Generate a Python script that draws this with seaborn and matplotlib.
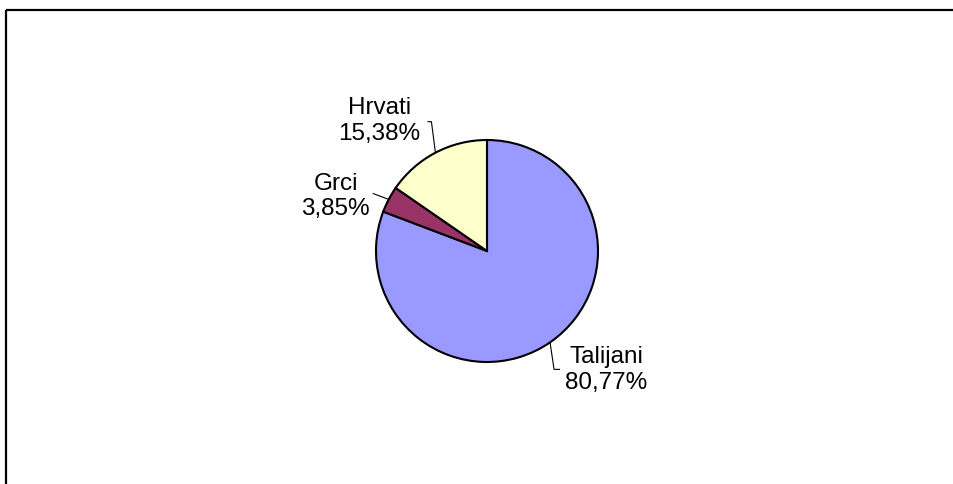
import numpy as np
import matplotlib
matplotlib.use("Agg")
import matplotlib.pyplot as plt
import seaborn as sns

categories = ["Talijani", "Grci", "Hrvati"]
values = [80.77, 3.85, 15.38]
colors = ["#9999FF", "#993366", "#FFFFCC"]

sns.set_theme(style="white")
plt.rcParams['font.family'] = ['Liberation Sans', 'DejaVu Sans']

W, H = 954, 484
fig = plt.figure(figsize=(W / 100, H / 100), dpi=100)
ax = fig.add_axes([0, 0, 1, 1])

cx, cy, r = 487, H - 251, 111
wedges, _ = ax.pie(values, colors=colors, startangle=90, counterclock=False,
                   center=(cx, cy), radius=r, frame=True,
                   wedgeprops=dict(edgecolor="black", linewidth=1.5))
ax.set_xlim(0, W)
ax.set_ylim(0, H)
ax.set_aspect("equal")
ax.set_axis_off()

# label offsets (pixels) relative to the slice edge midpoint; y up
offsets = {
    "Talijani": dict(text=(56, -28), leader=[(4, -27), (10, -27)]),
    "Grci": dict(text=(-53, 3), leader=[(-16, 6)]),
    "Hrvati": dict(text=(-56, 32), leader=[(-4, 31), (-8, 31)]),
}

for w, cat, val in zip(wedges, categories, values):
    ang = np.deg2rad((w.theta1 + w.theta2) / 2)
    ex, ey = cx + r * np.cos(ang), cy + r * np.sin(ang)
    o = offsets[cat]
    xs = [ex] + [ex + dx for dx, dy in o["leader"]]
    ys = [ey] + [ey + dy for dx, dy in o["leader"]]
    ax.plot(xs, ys, color="black", lw=0.8, solid_capstyle="butt")
    lbl = f"{cat}\n{val:.2f}%".replace(".", ",")
    ax.text(ex + o["text"][0], ey + o["text"][1], lbl, ha="center", va="center",
            fontsize=17.5, linespacing=1.22, color="black")

# frame lines (top and left)
ax.plot([6.5, W], [H - 10, H - 10], color="black", lw=1.6, solid_capstyle="butt")
ax.plot([6.5, 6.5], [0, H - 10], color="black", lw=1.6, solid_capstyle="butt")

fig.savefig("out.png", dpi=100, facecolor="white")
